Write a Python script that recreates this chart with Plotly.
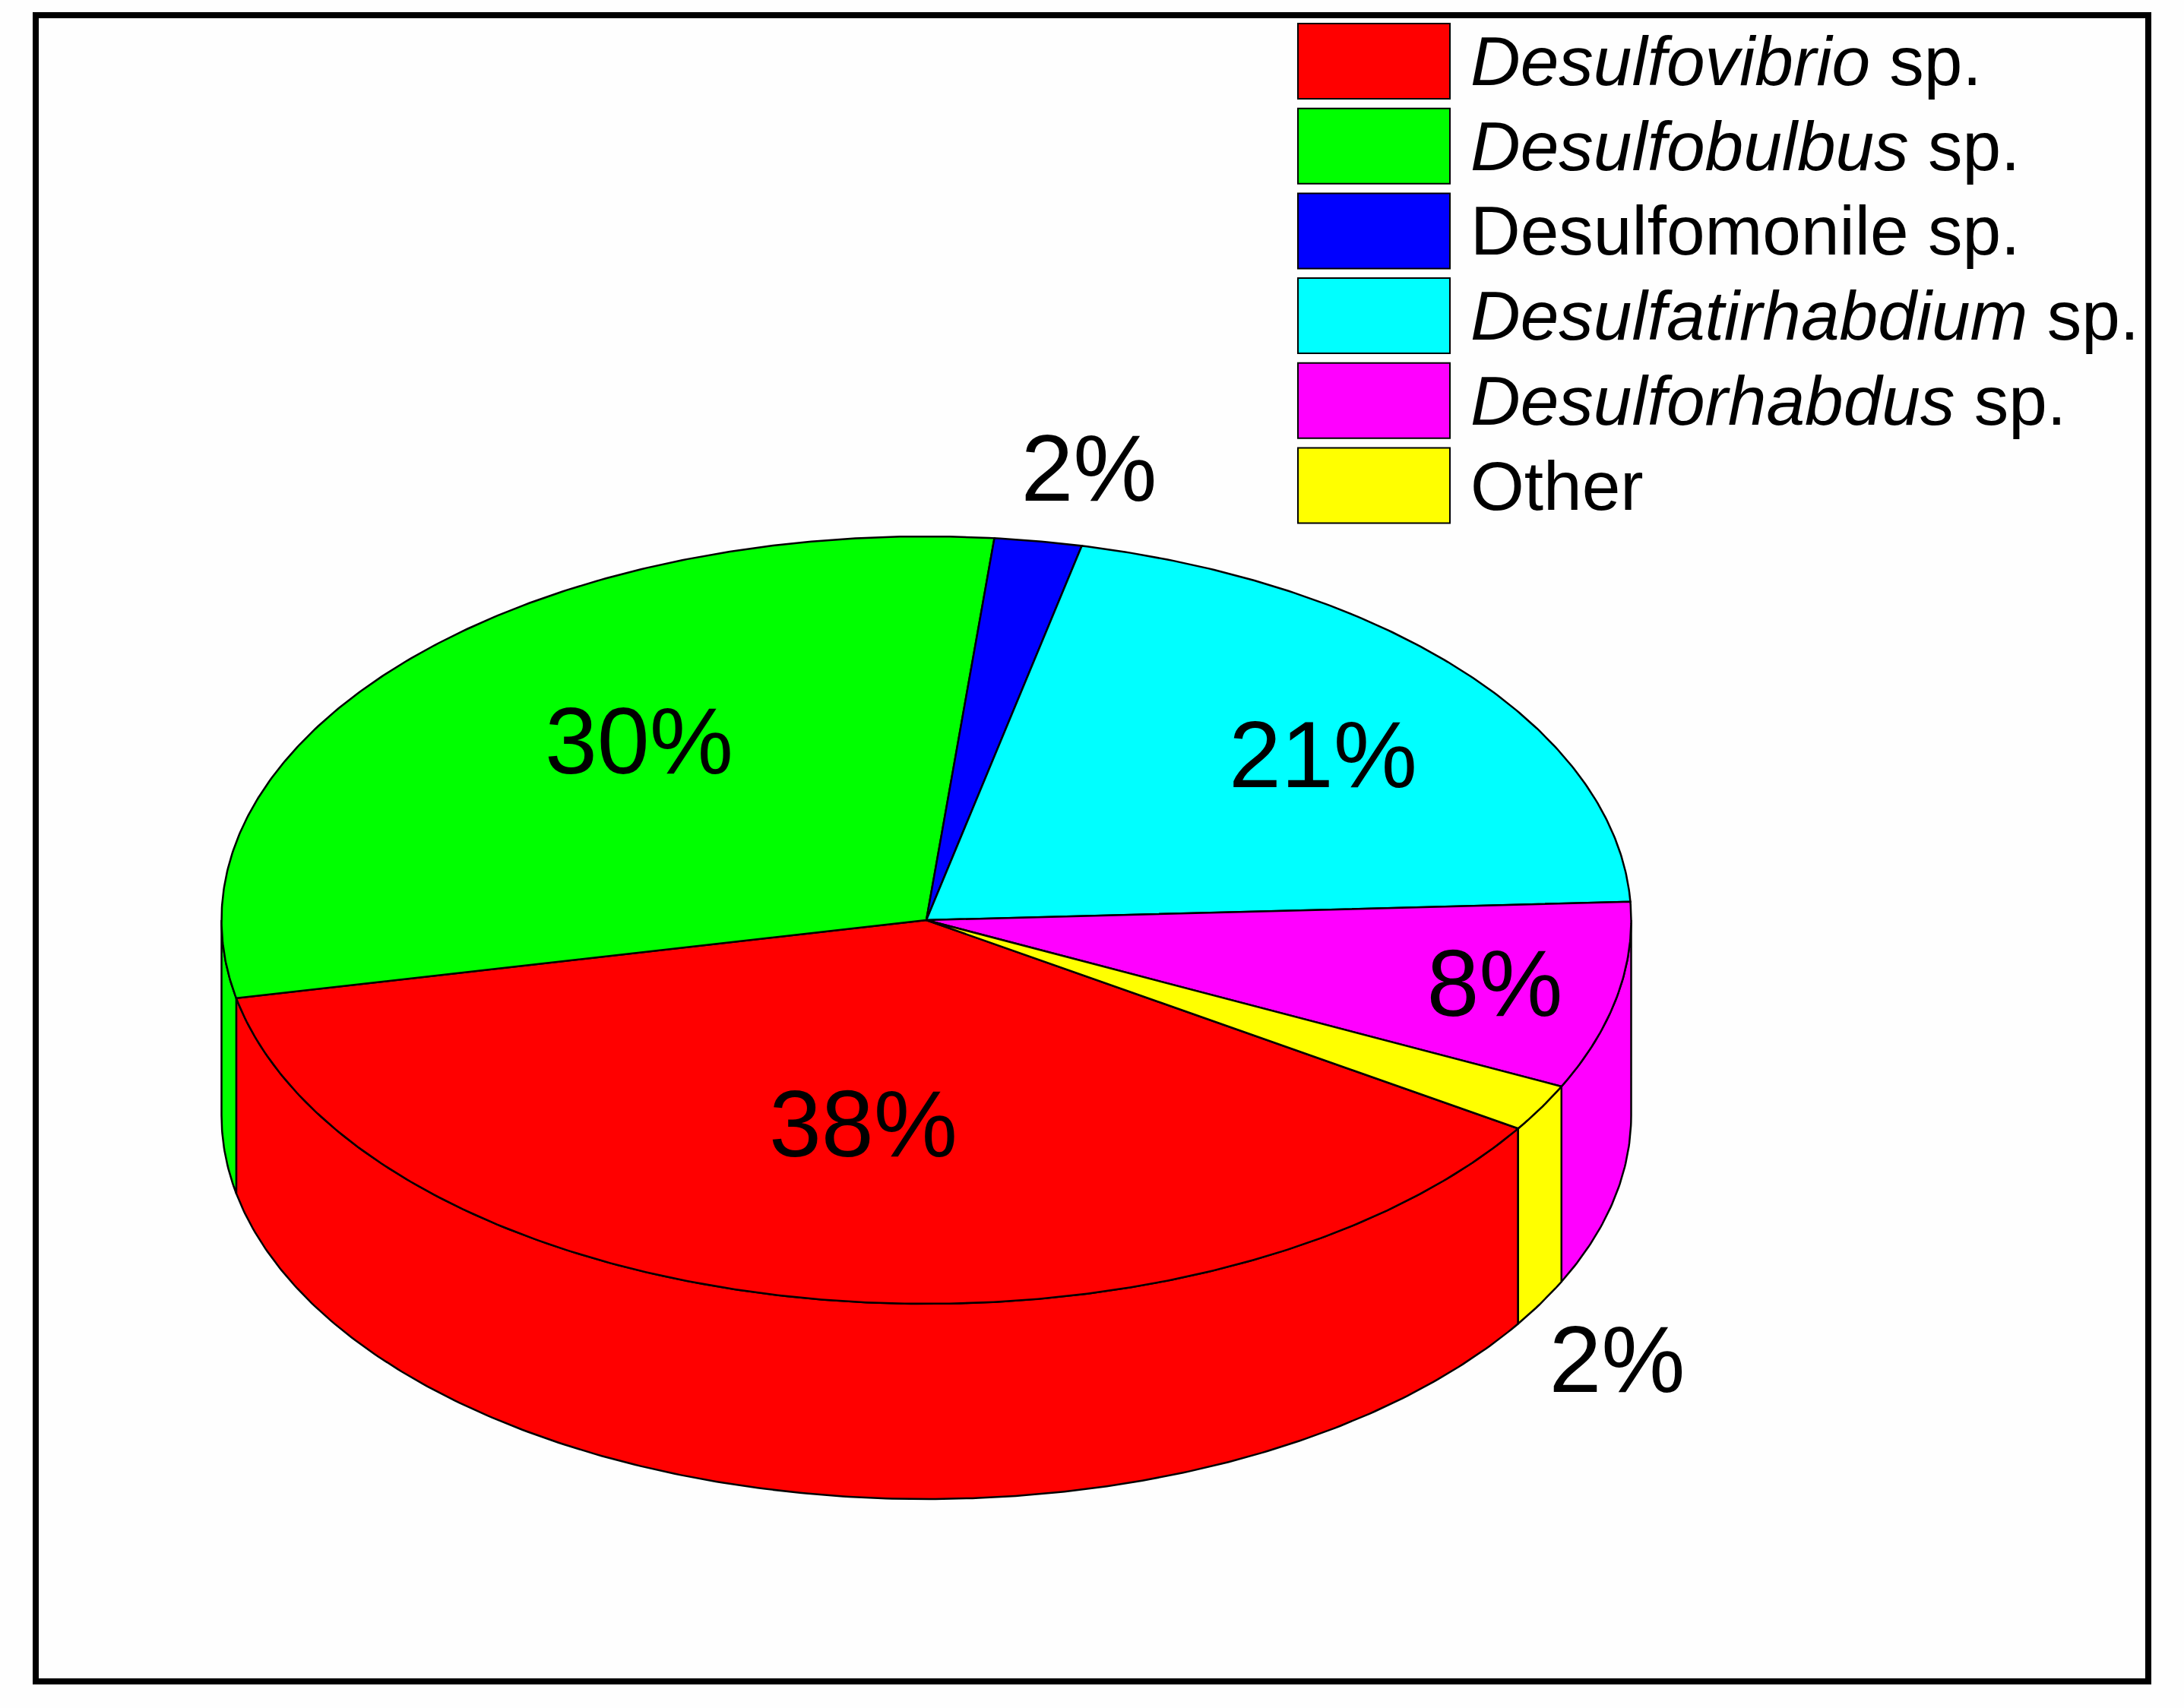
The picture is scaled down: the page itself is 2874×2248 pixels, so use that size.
import numpy as np
import plotly.graph_objects as go

# Data
species = ["Desulfovibrio", "Desulfobulbus", "Desulfomonile", "Desulfatirhabdium", "Desulforhabdus", "Other"]
legend_labels = ["<i>Desulfovibrio</i> sp.", "<i>Desulfobulbus</i> sp.", "Desulfomonile sp.",
                 "<i>Desulfatirhabdium</i> sp.", "<i>Desulforhabdus</i> sp.", "Other"]
shares = [37.6, 29.8, 2.0, 20.7, 7.9, 2.0]
colors = ["#ff0000", "#00ff00", "#0000ff", "#00ffff", "#ff00ff", "#ffff00"]

# Layout of the drawing (page pixels)
W, H = 2874, 2248
CX, CY, RX, RY, DEPTH = 1219, 1211, 927.5, 505, 257
START_ANGLE = -32.9
LABEL_XY = [(1136, 1491), (841, 987), (1433, 628), (1741, 1005), (1967, 1306), (2128, 1801)]
FRAME = (47, 20, 2827, 2213)
SW_X0, SW_X1, SW_Y0, SW_H, SW_STEP, TXT_X = 1708, 1908, 31, 99, 111.7, 1933
FONT = "Liberation Sans"
EDGE = dict(color="black", width=2.5)

fig = go.Figure()

ends = np.cumsum(shares) / np.sum(shares) * 360
bounds = START_ANGLE - np.concatenate([[0], ends])  # clockwise


def ell(t):
    r = np.radians(t)
    return CX + RX * np.cos(r), CY - RY * np.sin(r)


def add(x, y, color, name):
    fig.add_trace(go.Scatter(x=x, y=y, mode="lines", fill="toself", fillcolor=color,
                             line=EDGE, name=name, showlegend=False, hoverinfo="name"))


# Side walls: only the part of each slice on the near half of the rim
for i, (name, color) in enumerate(zip(species, colors)):
    a, b = bounds[i], bounds[i + 1]  # a > b
    for k in (-1, 0, 1):
        lo = max(b + 360 * k, -180)
        hi = min(a + 360 * k, 0)
        if hi > lo:
            t = np.linspace(hi, lo, max(int((hi - lo) * 2), 2))
            x, y = ell(t)
            add(np.r_[x, x[::-1], x[0]], np.r_[y, y[::-1] + DEPTH, y[0]], color, name)

# Top faces
for i, (name, color) in enumerate(zip(species, colors)):
    t = np.linspace(bounds[i], bounds[i + 1], max(int(shares[i] * 8), 4))
    x, y = ell(t)
    add(np.r_[CX, x, CX], np.r_[CY, y, CY], color, name)

# Percentage labels
fig.add_trace(go.Scatter(x=[p[0] for p in LABEL_XY], y=[p[1] for p in LABEL_XY], mode="text",
                         text=[f"{round(v)}%" for v in shares], textposition="middle center",
                         textfont=dict(family=FONT, size=124, color="black"),
                         showlegend=False, hoverinfo="skip"))

shapes = [dict(type="rect", xref="x", yref="y", x0=FRAME[0], y0=FRAME[1], x1=FRAME[2], y1=FRAME[3],
               line=dict(color="black", width=8), fillcolor="rgba(0,0,0,0)", layer="above")]
annotations = []
for i, (lab, color) in enumerate(zip(legend_labels, colors)):
    y0 = SW_Y0 + i * SW_STEP
    shapes.append(dict(type="rect", xref="x", yref="y", x0=SW_X0, x1=SW_X1, y0=y0, y1=y0 + SW_H,
                       fillcolor=color, line=dict(color="black", width=2), layer="above"))
    annotations.append(dict(x=TXT_X, y=y0 + SW_H / 2, xref="x", yref="y", text=lab, showarrow=False,
                            xanchor="left", yanchor="middle",
                            font=dict(family=FONT, size=91, color="black")))

fig.update_layout(width=W, height=H, margin=dict(l=0, r=0, t=0, b=0),
                  paper_bgcolor="#fefefe", plot_bgcolor="#fefefe",
                  shapes=shapes, annotations=annotations,
                  xaxis=dict(range=[0, W], visible=False, fixedrange=True),
                  yaxis=dict(range=[H, 0], visible=False, fixedrange=True),
                  showlegend=False)

fig.write_html("out.html", config={"displayModeBar": False},
               post_script="document.body.style.margin='0';window.dispatchEvent(new Event('resize'));")
